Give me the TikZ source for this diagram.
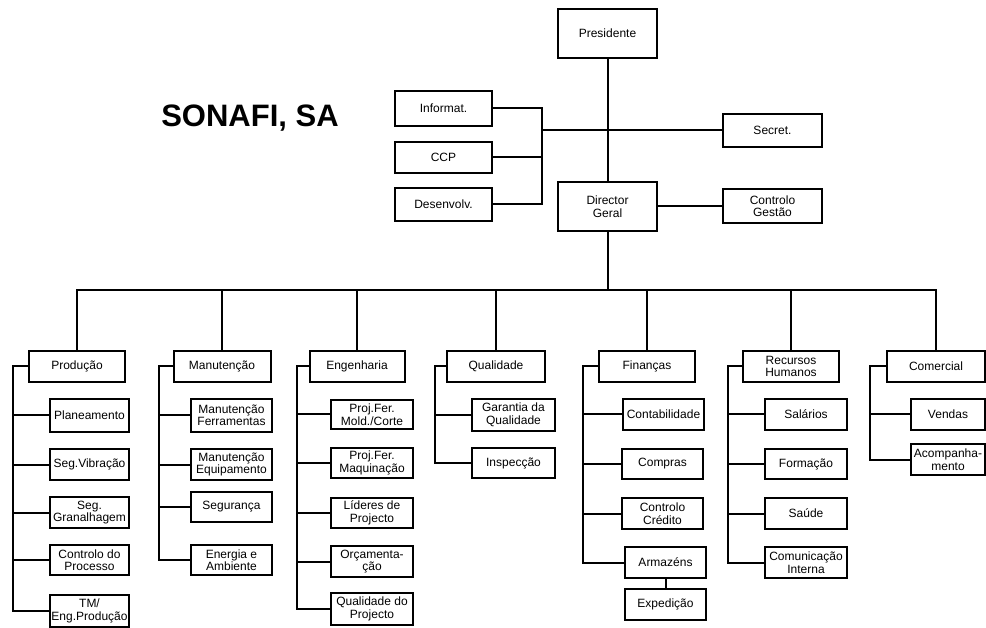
\documentclass[tikz,border=0pt]{standalone}
\usepackage{fontspec}
\setmainfont{Liberation Sans}
\begin{document}
\begin{tikzpicture}[x=1pt,y=-1pt,
  box/.style={draw, line width=2pt, inner sep=0pt, align=center,
    font=\fontsize{12}{12.5}\selectfont},
  conn/.style={line width=2pt, line cap=rect}]
\useasboundingbox (0,0) rectangle (986,628);
% top
\node[box,minimum width=99pt,minimum height=49pt] (pres) at (607.5,33.5) {Presidente};
\node[box,minimum width=99pt,minimum height=49pt] (dir) at (607.5,206.5) {Director\\Geral};
\node[box,minimum width=97pt,minimum height=35pt] (inf) at (443.5,108.5) {Informat.};
\node[box,minimum width=97pt,minimum height=31pt] (ccp) at (443.5,157.5) {CCP};
\node[box,minimum width=97pt,minimum height=33pt] (des) at (443.5,204.5) {Desenvolv.};
\node[box,minimum width=99pt,minimum height=33pt] (sec) at (772.5,130.5) {Secret.};
\node[box,minimum width=99pt,minimum height=34pt] (cg) at (772.5,206) {Controlo\\Gestão};
\node[font=\fontsize{31}{31}\selectfont\bfseries, anchor=base, inner sep=0pt] (title) at (250,127) {SONAFI, SA};
% departments
\foreach \n/\x/\w/\t in {prod/77/96/Produção, man/222/97/Manutenção, eng/357/95/Engenharia,
  qual/496/98/Qualidade, fin/647/96/Finanças, rh/791/96/{Recursos\\Humanos}, com/936/98/Comercial}
  \node[box,minimum width=\w pt,minimum height=31pt] (\n) at (\x,366.5) {\t};
% Producao
\node[box,minimum width=79pt,minimum height=33pt] (plan) at (89.5,415.5) {Planeamento};
\node[box,minimum width=79pt,minimum height=31pt] (segv) at (89.5,464.5) {Seg.Vibração};
\node[box,minimum width=79pt,minimum height=31pt] (segg) at (89.5,512.5) {Seg.\\Granalhagem};
\node[box,minimum width=79pt,minimum height=30pt] (cp) at (89.5,560) {Controlo do\\Processo};
\node[box,minimum width=79pt,minimum height=32pt] (tm) at (89.5,611) {TM/\\Eng.Produção};
% Manutencao
\node[box,minimum width=81pt,minimum height=33pt] (mf) at (231.5,415.5) {Manutenção\\Ferramentas};
\node[box,minimum width=81pt,minimum height=31pt] (me) at (231.5,464.5) {Manutenção\\Equipamento};
\node[box,minimum width=81pt,minimum height=30pt] (seg) at (231.5,507) {Segurança};
\node[box,minimum width=81pt,minimum height=30pt] (ea) at (231.5,560) {Energia e\\Ambiente};
% Engenharia
\node[box,minimum width=82pt,minimum height=29pt] (pfm) at (372,414.5) {Proj.Fer.\\Mold./Corte};
\node[box,minimum width=82pt,minimum height=30pt] (pfq) at (372,463) {Proj.Fer.\\Maquinação};
\node[box,minimum width=82pt,minimum height=30pt] (lp) at (372,513) {Líderes de\\Projecto};
\node[box,minimum width=82pt,minimum height=31pt] (orc) at (372,561.5) {Orçamenta-\\ção};
\node[box,minimum width=82pt,minimum height=32pt] (qp) at (372,609) {Qualidade do\\Projecto};
% Qualidade
\node[box,minimum width=83pt,minimum height=32pt] (gq) at (513.5,415) {Garantia da\\Qualidade};
\node[box,minimum width=83pt,minimum height=30pt] (insp) at (513.5,463) {Inspecção};
% Financas
\node[box,minimum width=81pt,minimum height=31pt] (cont) at (663.5,414.5) {Contabilidade};
\node[box,minimum width=81pt,minimum height=30pt] (comp) at (662.5,464) {Compras};
\node[box,minimum width=81pt,minimum height=31pt] (cc) at (662.5,513.5) {Controlo\\Crédito};
\node[box,minimum width=81pt,minimum height=31pt] (arm) at (665.5,562.5) {Armazéns};
\node[box,minimum width=81pt,minimum height=31pt] (exp) at (665.5,604.5) {Expedição};
% RH
\node[box,minimum width=82pt,minimum height=31pt] (sal) at (806,414.5) {Salários};
\node[box,minimum width=82pt,minimum height=30pt] (form) at (806,464) {Formação};
\node[box,minimum width=82pt,minimum height=31pt] (sau) at (806,513.5) {Saúde};
\node[box,minimum width=82pt,minimum height=31pt] (ci) at (806,562.5) {Comunicação\\Interna};
% Comercial
\node[box,minimum width=74pt,minimum height=31pt] (ven) at (948,414.5) {Vendas};
\node[box,minimum width=74pt,minimum height=31pt] (aco) at (948,459.5) {Acompanha-\\mento};
% top connectors
\coordinate (jx) at (542,0);
\coordinate (bus) at (0,290);
\draw[conn] (pres) -- (dir);
\draw[conn] (inf.east) -- (inf.east -| jx) -- (jx |- des.east) -- (des.east);
\draw[conn] (ccp.east) -- (ccp.east -| jx);
\draw[conn] (jx |- sec.west) -- (sec.west);
\draw[conn] (dir.east) -- (dir.east -| cg.west);
\draw[conn] (dir.south) -- (dir.south |- bus);
\draw[conn] (prod.north |- bus) -- (com.north |- bus);
\foreach \n in {prod,man,eng,qual,fin,rh,com}
  \draw[conn] (\n.north) -- (\n.north |- bus);
% brackets
\foreach \d/\x/\last/\rest in {prod/13/tm/{plan,segv,segg,cp}, man/159/ea/{mf,me,seg},
   eng/297/qp/{pfm,pfq,lp,orc}, qual/435/insp/{gq}, fin/583/arm/{cont,comp,cc},
   rh/728/ci/{sal,form,sau}, com/870/aco/{ven}}{
  \coordinate (br) at (\x,0);
  \draw[conn] (\d.west) -- (\d.west -| br) -- (br |- \last.west) -- (\last.west);
  \foreach \c in \rest \draw[conn] (\c.west) -- (\c.west -| br);
}
\draw[conn] (arm.south) -- (exp.north);
\end{tikzpicture}
\end{document}
